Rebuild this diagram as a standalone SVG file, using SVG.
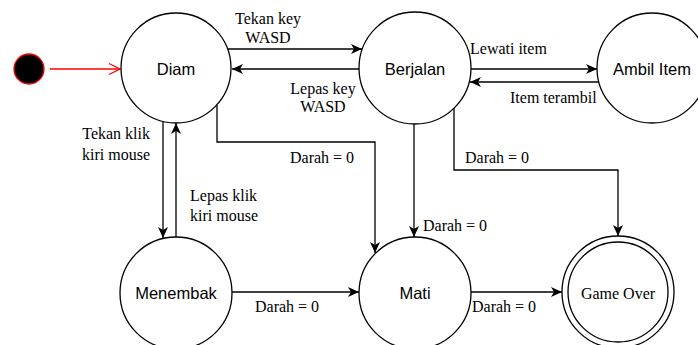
<svg xmlns="http://www.w3.org/2000/svg" width="698" height="345" viewBox="0 0 698 345">
  <style>
    .state { fill: #ffffff; stroke: #000000; stroke-width: 1.3; }
    .name { font-family: "Liberation Sans", Arial, sans-serif; font-size: 16.5px; fill: #000000; text-anchor: middle; dominant-baseline: central; }
    .serif { font-family: "Liberation Serif", "Times New Roman", serif; font-size: 16px; fill: #000000; }
    .edge { fill: none; stroke: #000000; stroke-width: 1.3; marker-end: url(#arrow); }
    .lbl { font-family: "Liberation Serif", "Times New Roman", serif; font-size: 16px; fill: #000000; dominant-baseline: central; }
  </style>
  <defs>
    <marker id="arrow" markerUnits="userSpaceOnUse" markerWidth="12" markerHeight="10" refX="11" refY="5" orient="auto">
      <path d="M0,0 L11,5 L0,10 L3,5 Z" fill="#000000"/>
    </marker>
    <marker id="open" markerUnits="userSpaceOnUse" markerWidth="14" markerHeight="14" refX="12" refY="7" orient="auto">
      <path d="M1,1.5 L12,7 L1,12.5" fill="none" stroke="#ff0000" stroke-width="1.3"/>
    </marker>
  </defs>
  <rect width="698" height="345" fill="#ffffff"/>

  <!-- connectors -->
  <g id="connectors">
    <line x1="50" y1="69" x2="120" y2="69" stroke="#ff0000" stroke-width="1.3" marker-end="url(#open)"/>
    <line class="edge" x1="228" y1="49" x2="362" y2="49"/>
    <line class="edge" x1="359" y1="69" x2="232" y2="69"/>
    <line class="edge" x1="471" y1="69" x2="597" y2="69"/>
    <line class="edge" x1="599" y1="82" x2="470" y2="82"/>
    <polyline class="edge" points="217,105 217,142 375,142 375,253"/>
    <line class="edge" x1="414" y1="124" x2="414" y2="237"/>
    <polyline class="edge" points="454,108 454,170 618,170 618,236"/>
    <line class="edge" x1="163" y1="122" x2="163" y2="238"/>
    <line class="edge" x1="176" y1="237" x2="176" y2="123"/>
    <line class="edge" x1="232" y1="292" x2="359" y2="292"/>
    <line class="edge" x1="471" y1="292" x2="562" y2="292"/>

    <text class="lbl" x="268" y="18" text-anchor="middle">Tekan key</text>
    <text class="lbl" x="268" y="37" text-anchor="middle">WASD</text>
    <text class="lbl" x="323" y="88" text-anchor="middle">Lepas key</text>
    <text class="lbl" x="323" y="106" text-anchor="middle">WASD</text>
    <text class="lbl" x="470" y="48">Lewati item</text>
    <text class="lbl" x="510" y="97">Item terambil</text>
    <text class="lbl" x="150" y="133" text-anchor="end">Tekan klik</text>
    <text class="lbl" x="150" y="154" text-anchor="end">kiri mouse</text>
    <text class="lbl" x="190" y="195">Lepas klik</text>
    <text class="lbl" x="190" y="215">kiri mouse</text>
    <text class="lbl" x="290" y="157">Darah = 0</text>
    <text class="lbl" x="465" y="157">Darah = 0</text>
    <text class="lbl" x="423" y="225">Darah = 0</text>
    <text class="lbl" x="255" y="306">Darah = 0</text>
    <text class="lbl" x="472" y="306">Darah = 0</text>
  </g>

  <!-- states -->
  <g id="start">
    <circle cx="29" cy="69" r="15" fill="#000000" stroke="#ff0000" stroke-width="1.3"/>
  </g>
  <g id="diam">
    <circle class="state" cx="176" cy="68" r="55"/>
    <text class="name" x="176" y="69">Diam</text>
  </g>
  <g id="berjalan">
    <circle class="state" cx="415" cy="68" r="56"/>
    <text class="name" x="415" y="69">Berjalan</text>
  </g>
  <g id="ambil-item">
    <circle class="state" cx="652" cy="68" r="55"/>
    <text class="name" x="652" y="69">Ambil Item</text>
  </g>
  <g id="menembak">
    <circle class="state" cx="176" cy="293" r="56"/>
    <text class="name" x="176" y="293">Menembak</text>
  </g>
  <g id="mati">
    <circle class="state" cx="415" cy="293" r="56"/>
    <text class="name" x="415" y="293">Mati</text>
  </g>
  <g id="game-over">
    <circle class="state" cx="618" cy="292" r="56"/>
    <circle class="state" cx="618" cy="292" r="50"/>
    <text class="serif" x="618" y="293" text-anchor="middle" dominant-baseline="central">Game Over</text>
  </g>
</svg>
